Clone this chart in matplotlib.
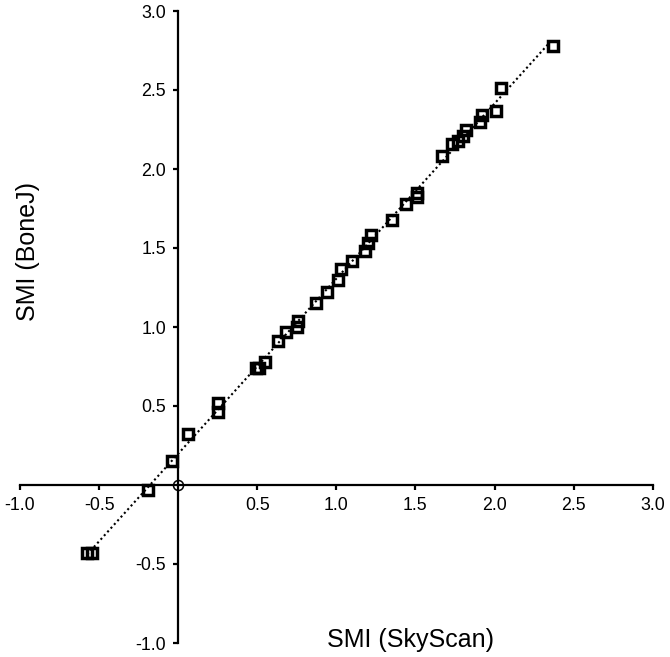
import numpy as np
import matplotlib
matplotlib.use("Agg")
import matplotlib.pyplot as plt

plt.rcParams['font.family'] = ['Liberation Sans', 'DejaVu Sans']
plt.rcParams['axes.unicode_minus'] = False

# datos
smi_skyscan = [-0.575, -0.545, -0.19, -0.04, 0.06, 0.25, 0.25, 0.49, 0.51, 0.55,
               0.63, 0.68, 0.75, 0.76, 0.87, 0.94, 1.01, 1.03, 1.10, 1.18,
               1.20, 1.22, 1.35, 1.44, 1.51, 1.51, 1.67, 1.73, 1.77, 1.80,
               1.82, 1.91, 1.92, 2.01, 2.04, 2.37]
smi_bonej = [-0.43, -0.43, -0.03, 0.15, 0.32, 0.46, 0.52, 0.74, 0.74, 0.78,
             0.91, 0.97, 1.00, 1.04, 1.15, 1.22, 1.30, 1.37, 1.42, 1.48,
             1.53, 1.58, 1.68, 1.78, 1.82, 1.85, 2.08, 2.16, 2.18, 2.21,
             2.25, 2.30, 2.34, 2.37, 2.51, 2.78]
ticks = [-1.0, -0.5, 0.5, 1.0, 1.5, 2.0, 2.5, 3.0]

fig = plt.figure(figsize=(6.7, 6.57), dpi=100)
ax = fig.add_axes([20 / 670, 14 / 657, 632.7 / 670, 632 / 657])

# recta de regresion
m, b = np.polyfit(smi_skyscan, smi_bonej, 1)
xs = np.array([min(smi_skyscan), max(smi_skyscan)])
ax.plot(xs, m * xs + b, color='black', lw=1.5, ls=(0, (1, 1.4)), zorder=3)

ax.plot(smi_skyscan, smi_bonej, ls='none', marker='s', ms=7.6, mew=2.5,
        mfc='none', mec='black', zorder=2)
ax.plot([0], [0], ls='none', marker='o', ms=7.2, mew=1.1, mfc='none',
        mec='black', zorder=4)

ax.set_xlim(-1.0, 3.0)
ax.set_ylim(-1.0, 3.0)
for s in ['top', 'right']:
    ax.spines[s].set_visible(False)
for s in ['left', 'bottom']:
    ax.spines[s].set_position(('data', 0))
    ax.spines[s].set_linewidth(1.6)

ax.set_xticks(ticks)
ax.set_yticks(ticks)
ax.set_xticklabels([f"{t:.1f}" for t in ticks])
ax.set_yticklabels([f"{t:.1f}" for t in ticks])
ax.tick_params(direction='out', length=3.8, width=1.6, labelsize=12.8, pad=5)

ax.text(0.617, 0.005, 'SMI (SkyScan)', transform=ax.transAxes, fontsize=18,
        ha='center', va='center')
ax.text(0.013, 0.62, 'SMI (BoneJ)', transform=ax.transAxes, fontsize=18,
        ha='center', va='center', rotation=90)

fig.savefig('out.png', dpi=100)
